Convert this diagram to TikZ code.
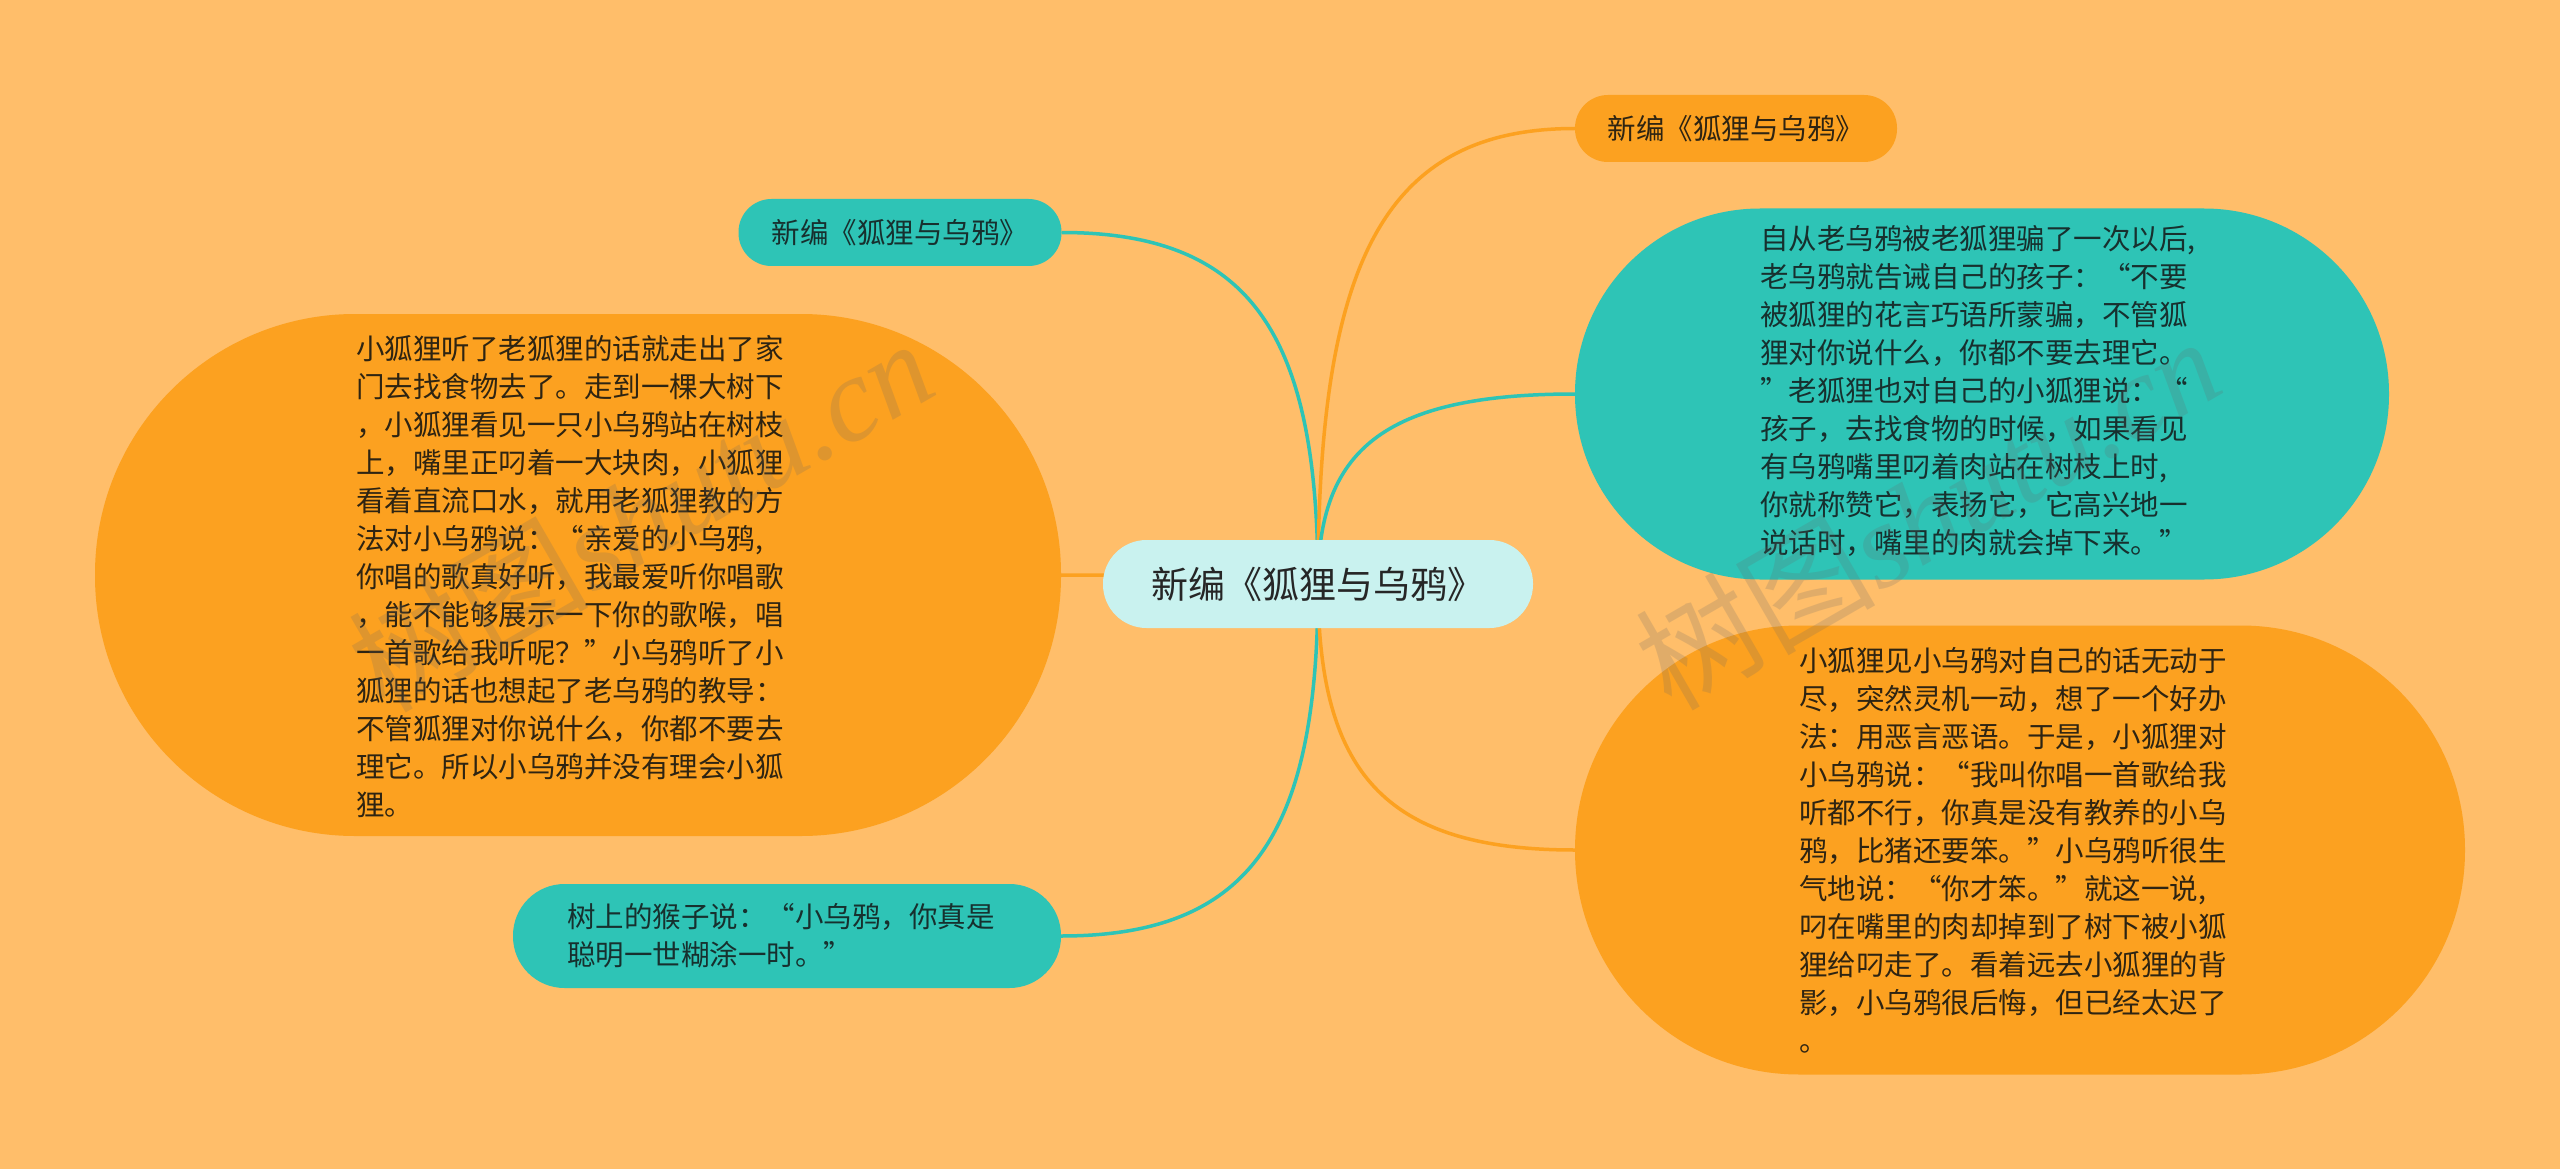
\documentclass[tikz,border=0pt]{standalone}
\usepackage{fontspec}
\setmainfont{Noto Sans CJK SC}
\newfontfamily\wmlat{Liberation Serif}
\usetikzlibrary{calc,backgrounds}
\definecolor{bgc}{HTML}{FFBE6A}
\definecolor{orgc}{HTML}{FCA120}
\definecolor{tealc}{HTML}{2EC4B6}
\definecolor{cenc}{HTML}{C9F2EF}
\definecolor{otext}{HTML}{2E2412}
\definecolor{ttext}{HTML}{17302E}
\newcommand\mmconn[2]{\draw[#1] (c.center) .. controls ($(c.center)!0.7!(c.center |- #2)$) and ($(#2)!0.75!(#2 -| c.center)$) .. (#2);}
\begin{document}
\begin{tikzpicture}[x=1pt,y=-1pt,
  box/.style={rectangle, inner sep=0pt, align=left, font=\fontsize{28.5pt}{38pt}\selectfont},
  orgbox/.style={box, fill=orgc, text=otext},
  tealbox/.style={box, fill=tealc, text=ttext},
  orgline/.style={draw=orgc, line width=3.5pt},
  tealline/.style={draw=tealc, line width=3.5pt},
  wm/.style={font=\fontsize{120pt}{124pt}\selectfont, text=black!60, opacity=0.2, rotate=30}
]
\useasboundingbox (0,0) rectangle (2560,1169);

\node[box, fill=cenc, text=black!85, minimum width=430pt, minimum height=88pt, rounded corners=43.5pt,
  font=\fontsize{37pt}{44pt}\selectfont] (c) at (1318,584) {新编《狐狸与乌鸦》};

\node[tealbox, minimum width=323pt, minimum height=67pt, rounded corners=33pt] (tl) at (900,232.5) {新编《狐狸与乌鸦》};

\node[orgbox, minimum width=322pt, minimum height=67pt, rounded corners=33pt] (tr) at (1736,128.5) {新编《狐狸与乌鸦》};

\node[orgbox, minimum width=966pt, minimum height=522pt, rounded corners=260pt] (lo) at (578,575) {};
\node[box, text=otext, anchor=center] (lot) at (570,577) {小狐狸听了老狐狸的话就走出了家\\门去找食物去了。走到一棵大树下\\，小狐狸看见一只小乌鸦站在树枝\\上，嘴里正叼着一大块肉，小狐狸\\看着直流口水，就用老狐狸教的方\\法对小乌鸦说：“亲爱的小乌鸦,\\你唱的歌真好听，我最爱听你唱歌\\，能不能够展示一下你的歌喉，唱\\一首歌给我听呢？”小乌鸦听了小\\狐狸的话也想起了老乌鸦的教导：\\不管狐狸对你说什么，你都不要去\\理它。所以小乌鸦并没有理会小狐\\狸。};

\node[tealbox, minimum width=814pt, minimum height=371pt, rounded corners=185pt] (rt) at (1982,394) {};
\node[box, text=ttext] (rtt) at (1978,391) {自从老乌鸦被老狐狸骗了一次以后,\\老乌鸦就告诫自己的孩子：“不要\\被狐狸的花言巧语所蒙骗，不管狐\\狸对你说什么，你都不要去理它。\\”老狐狸也对自己的小狐狸说：“\\孩子，去找食物的时候，如果看见\\有乌鸦嘴里叼着肉站在树枝上时,\\你就称赞它，表扬它，它高兴地一\\说话时，嘴里的肉就会掉下来。”};

\node[orgbox, minimum width=890pt, minimum height=449pt, rounded corners=224pt] (ro) at (2020,850) {};
\node[box, text=otext] (rot) at (2013,850) {小狐狸见小乌鸦对自己的话无动于\\尽，突然灵机一动，想了一个好办\\法：用恶言恶语。于是，小狐狸对\\小乌鸦说：“我叫你唱一首歌给我\\听都不行，你真是没有教养的小乌\\鸦，比猪还要笨。”小乌鸦听很生\\气地说：“你才笨。”就这一说,\\叼在嘴里的肉却掉到了树下被小狐\\狸给叼走了。看着远去小狐狸的背\\影，小乌鸦很后悔，但已经太迟了\\。};

\node[tealbox, minimum width=548pt, minimum height=104pt, rounded corners=51.5pt] (bl) at (787,936) {};
\node[box, text=ttext] (blt) at (781,936) {树上的猴子说：“小乌鸦，你真是\\聪明一世糊涂一时。”};

\begin{pgfonlayer}{background}
  \fill[bgc] (0,0) rectangle (2560,1169);
  \mmconn{tealline}{tl.east}
  \mmconn{orgline}{lo.east}
  \mmconn{tealline}{bl.east}
  \mmconn{orgline}{tr.west}
  \mmconn{tealline}{rt.west}
  \mmconn{orgline}{ro.west}
\end{pgfonlayer}

\node[wm] (wm1) at (640,514) {树图{\wmlat\itshape shutu.cn}};
\node[wm] (wm2) at (1927,512) {树图{\wmlat\itshape shutu.cn}};
\end{tikzpicture}
\end{document}
